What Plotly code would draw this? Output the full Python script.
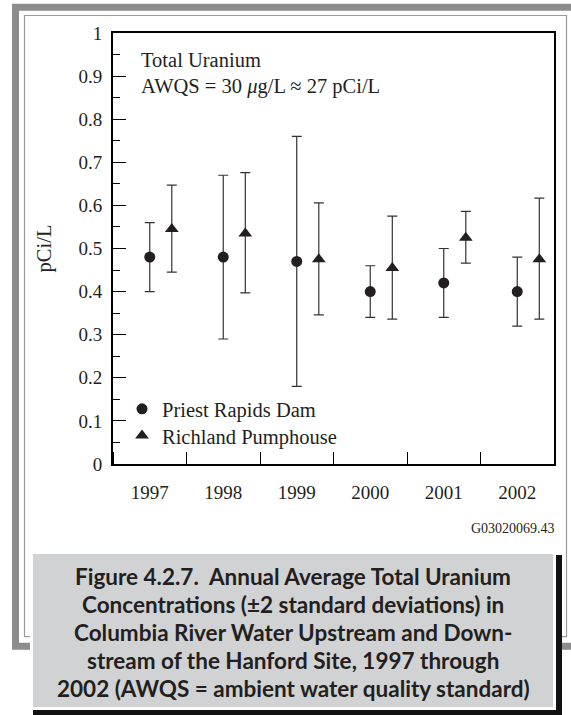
"""Annual average total uranium, Columbia River (Figure 4.2.7)."""
import plotly.graph_objects as go

years = [1997, 1998, 1999, 2000, 2001, 2002]

# Priest Rapids Dam (upstream)
priest = [0.48, 0.48, 0.47, 0.40, 0.42, 0.40]
priest_hi = [0.56, 0.67, 0.76, 0.46, 0.50, 0.48]
priest_lo = [0.40, 0.29, 0.18, 0.34, 0.34, 0.32]

# Richland Pumphouse (downstream)
richland = [0.545, 0.535, 0.475, 0.455, 0.525, 0.475]
richland_hi = [0.647, 0.676, 0.606, 0.575, 0.586, 0.617]
richland_lo = [0.445, 0.397, 0.346, 0.336, 0.466, 0.336]

caption_lines = [
    "Figure 4.2.7.\u00a0 Annual Average Total Uranium",
    "Concentrations (±2 standard deviations) in",
    "Columbia River Water Upstream and Down-",
    "stream of the Hanford Site, 1997 through",
    "2002 (AWQS = ambient water quality standard)",
]

W, H = 571, 715
L, R, T, B = 113, 554, 33, 464  # plot area in pixels
SERIF = "Liberation Serif, Times New Roman, serif"
INK = "#231f20"
TXT = 20.5


def px(x):
    return (x - L) / (R - L)


def py(y):
    return (B - y) / (B - T)


fig = go.Figure()
fig.add_trace(go.Scatter(
    x=years, y=priest, mode="markers", name="Priest Rapids Dam",
    marker=dict(symbol="circle", size=11, color=INK),
    error_y=dict(type="data", symmetric=False,
                 array=[h - v for h, v in zip(priest_hi, priest)],
                 arrayminus=[v - l for v, l in zip(priest, priest_lo)],
                 color="#333", thickness=1.2, width=5),
    legend="legend",
))
fig.add_trace(go.Scatter(
    x=[y + 0.3 for y in years], y=richland, mode="markers", name="Richland Pumphouse",
    marker=dict(symbol="triangle-up", size=12, color=INK),
    error_y=dict(type="data", symmetric=False,
                 array=[h - v for h, v in zip(richland_hi, richland)],
                 arrayminus=[v - l for v, l in zip(richland, richland_lo)],
                 color="#333", thickness=1.2, width=5),
    legend="legend2",
))

shapes = [
    # outer gray frame
    dict(type="rect", xref="paper", yref="paper",
         x0=px(15.5), x1=px(600), y0=py(7.3), y1=py(646.3),
         line=dict(color="#8c8c8c", width=7)),
    # inner thin frame
    dict(type="rect", xref="paper", yref="paper",
         x0=px(24.5), x1=px(566.5), y0=py(15.5), y1=py(636.7),
         line=dict(color="#9a9a9a", width=1.2)),
    # caption shadow, white border, gray box
    dict(type="rect", xref="paper", yref="paper",
         x0=px(33), x1=px(562), y0=py(555), y1=py(720),
         line=dict(width=0), fillcolor="#111"),
    dict(type="rect", xref="paper", yref="paper",
         x0=px(30), x1=px(556), y0=py(551), y1=py(710),
         line=dict(width=0), fillcolor="white"),
    dict(type="rect", xref="paper", yref="paper",
         x0=px(33), x1=px(553), y0=py(554), y1=py(707),
         line=dict(width=0), fillcolor="#d1d2d3"),
]

annotations = [
    dict(text="Total Uranium", x=px(139), y=py(60.5)),
    dict(text="AWQS = 30 <i>μ</i>g/L ≈ 27 pCi/L", x=px(139), y=py(86.5)),
]
for a in annotations:
    a.update(xref="paper", yref="paper", xanchor="left", yanchor="middle",
             showarrow=False, font=dict(family=SERIF, size=TXT, color=INK))

annotations.append(dict(
    text="G03020069.43", x=px(557), y=py(528), xref="paper", yref="paper",
    xanchor="right", yanchor="middle", showarrow=False,
    font=dict(family=SERIF, size=14, color=INK)))

for i, line in enumerate(caption_lines):
    annotations.append(dict(
        text=f"<b>{line}</b>", x=px(293), y=py(576 + 28 * i),
        xref="paper", yref="paper", xanchor="center", yanchor="middle",
        showarrow=False, font=dict(family="Lato, sans-serif", size=22.5, color=INK)))

legend_style = dict(xanchor="left", yanchor="top", bgcolor="rgba(0,0,0,0)",
                    font=dict(family=SERIF, size=TXT, color=INK), itemwidth=30)

fig.update_layout(
    width=W, height=H,
    margin=dict(l=L, r=W - R, t=T, b=H - B, pad=0),
    paper_bgcolor="white", plot_bgcolor="white",
    showlegend=True,
    legend=dict(x=px(122), y=py(389), **legend_style),
    legend2=dict(x=px(122), y=py(415.7), **legend_style),
    shapes=shapes, annotations=annotations,
    font=dict(family=SERIF, size=19, color=INK),
)
fig.update_xaxes(
    range=[1996.5, 2002.5], tickvals=years, ticktext=[str(y) for y in years],
    ticks="", showgrid=False, zeroline=False,
    showline=True, linecolor="black", linewidth=2, mirror=True,
    tickfont=dict(family=SERIF, size=19, color=INK),
    minor=dict(tick0=1996.5, dtick=1, ticks="inside", ticklen=12,
               tickcolor="black", tickwidth=1.2, showgrid=False),
    ticklabelstandoff=10,
)
fig.update_yaxes(
    range=[0, 1], dtick=0.1, ticks="inside", ticklen=13, tickwidth=1.2,
    tickcolor="black", showgrid=False, zeroline=False,
    showline=True, linecolor="black", linewidth=2, mirror=True,
    tickfont=dict(family=SERIF, size=19, color=INK),
    minor=dict(dtick=0.05, ticks="inside", ticklen=7, tickcolor="black",
               tickwidth=1.2, showgrid=False),
    title=dict(text="pCi/L", font=dict(family=SERIF, size=TXT, color=INK), standoff=21),
    ticklabelstandoff=5,
)

# drop the page's default body margin so the figure sits at the window origin
fig.write_html("out.html", config={"displayModeBar": False},
               post_script="document.body.style.margin='0';")
